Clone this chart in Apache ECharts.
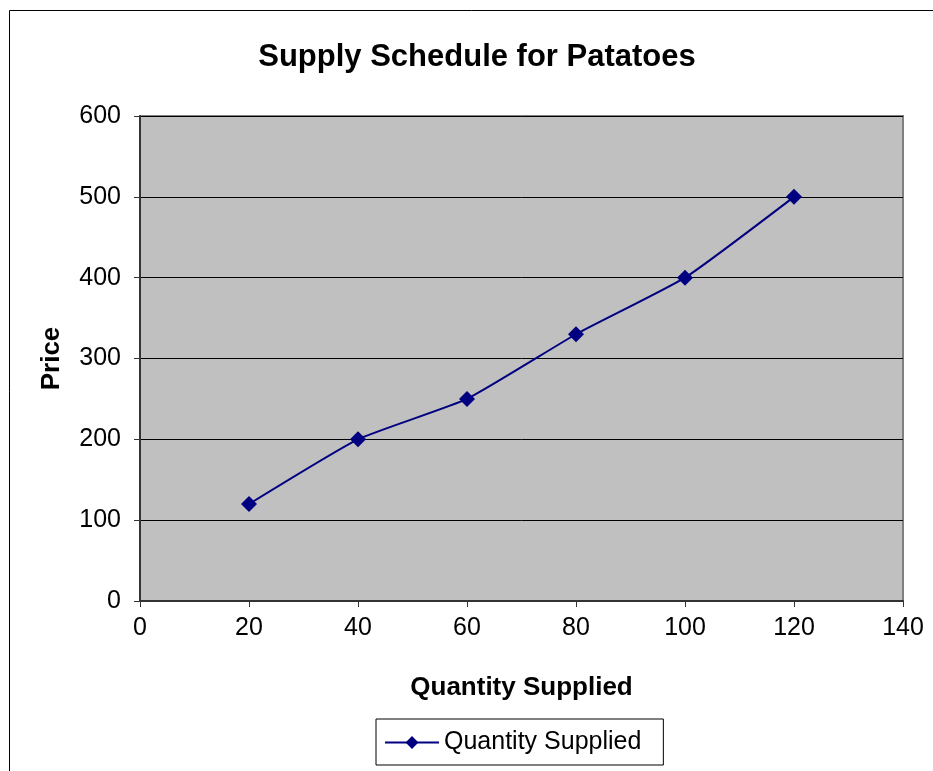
<!DOCTYPE html>
<html>
<head>
<meta charset="utf-8">
<script src="https://cdn.jsdelivr.net/npm/echarts@6/dist/echarts.min.js"></script>
<style>
html, body { margin: 0; padding: 0; background: #fff; }
#chart { width: 933px; height: 771px; }
</style>
</head>
<body>
<div id="chart"></div>
<script>
// 数据
const quantity = [20, 40, 60, 80, 100, 120];
const price = [120, 200, 250, 330, 400, 500];
const seriesName = 'Quantity Supplied';

const points = quantity.map((q, i) => [q, price[i]]);
const font = 'Liberation Sans, Arial, sans-serif';

const myChart = echarts.init(document.getElementById('chart'));
myChart.setOption({
    animation: false,
    textStyle: { fontFamily: font },
    title: {
        text: 'Supply Schedule for Patatoes',
        left: 472,
        top: 37,
        textAlign: 'center',
        textStyle: { fontSize: 31, fontWeight: 'bold', color: '#000', fontFamily: font },
    },
    // 外框
    graphic: [
        {
            type: 'rect',
            shape: { x: 9.5, y: 10.5, width: 1000, height: 1000 },
            style: { fill: 'none', stroke: '#000', lineWidth: 1 },
            silent: true,
        },
    ],
    grid: {
        left: 140,
        right: 30,
        top: 116,
        bottom: 170,
        show: true,
        backgroundColor: '#c0c0c0',
        borderColor: '#808080',
        borderWidth: 2,
    },
    legend: {
        data: [seriesName],
        left: 376,
        top: 719,
        orient: 'horizontal',
        itemWidth: 54,
        itemHeight: 16,
        padding: [11, 22, 10, 8],
        borderColor: '#000',
        borderWidth: 1,
        textStyle: { fontSize: 25, color: '#000', fontFamily: font },
    },
    xAxis: {
        type: 'value',
        min: 0,
        max: 140,
        interval: 20,
        name: 'Quantity Supplied',
        nameLocation: 'middle',
        nameGap: 74,
        nameTextStyle: { fontSize: 26, fontWeight: 'bold', color: '#000', fontFamily: font },
        axisLine: { show: true, lineStyle: { color: '#333', width: 2 } },
        axisTick: { show: true, length: 6, lineStyle: { color: '#333' } },
        axisLabel: { fontSize: 25, color: '#000', margin: 15, fontFamily: font },
        splitLine: { show: false },
    },
    yAxis: {
        type: 'value',
        min: 0,
        max: 600,
        interval: 100,
        name: 'Price',
        nameLocation: 'middle',
        nameGap: 75,
        nameTextStyle: { fontSize: 26, fontWeight: 'bold', color: '#000', fontFamily: font },
        axisLine: { show: true, lineStyle: { color: '#333', width: 2 } },
        axisTick: { show: true, length: 6, lineStyle: { color: '#333' } },
        axisLabel: { fontSize: 25, color: '#000', margin: 19, fontFamily: font },
        splitLine: { show: true, lineStyle: { color: '#000', width: 1 } },
    },
    series: [
        {
            name: seriesName,
            type: 'line',
            data: points,
            smooth: 0.15,
            symbol: 'diamond',
            symbolSize: 16,
            lineStyle: { color: '#000080', width: 2 },
            itemStyle: { color: '#000080' },
        },
    ],
});
</script>
</body>
</html>
